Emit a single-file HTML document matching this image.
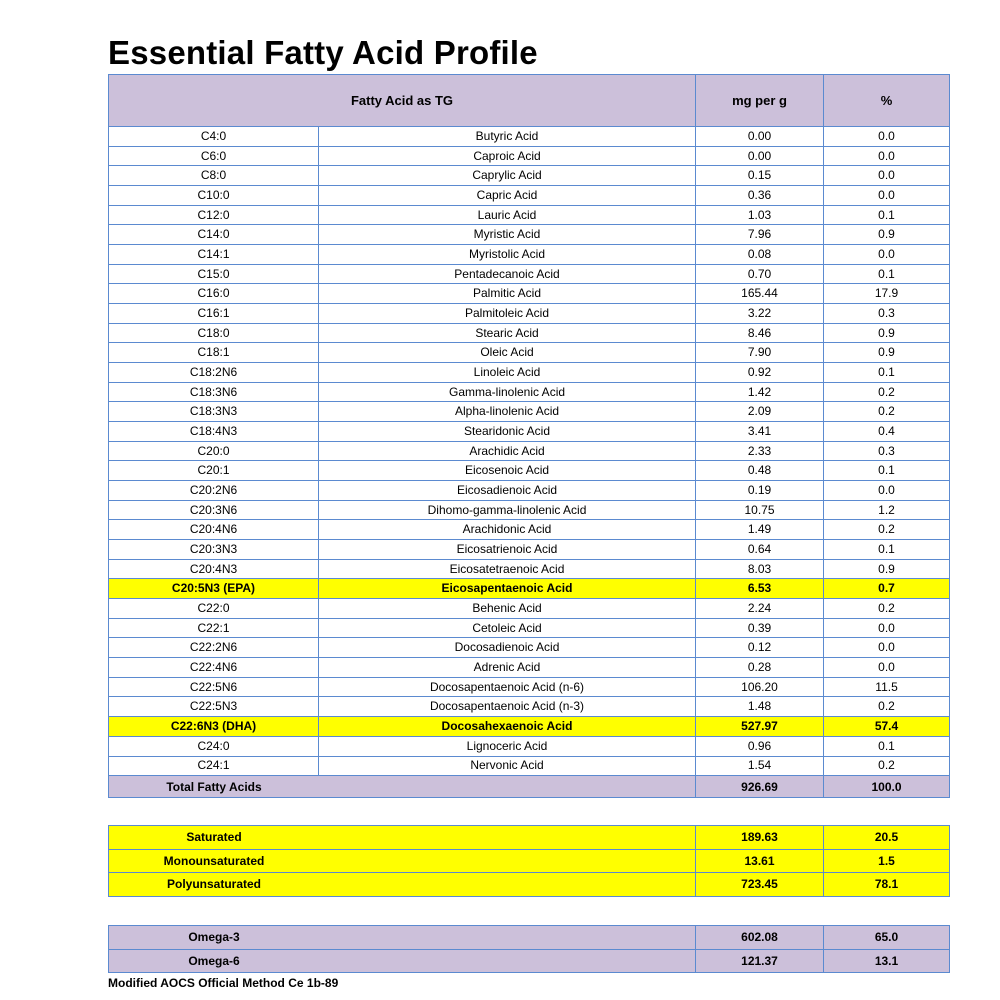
<!DOCTYPE html>
<html><head><meta charset="utf-8"><style>
body{margin:0;width:1000px;height:1000px;background:#fff;position:relative;font-family:"Liberation Sans","DejaVu Sans",sans-serif;color:#000;overflow:hidden}
h1{position:absolute;left:108px;top:34px;margin:0;font-size:33px;font-weight:bold;letter-spacing:0.2px}
table{position:absolute;left:108px;width:841px;border-collapse:collapse;table-layout:fixed;font-size:12px}
td{border:1.5px solid #5b8ad0;text-align:center;padding:0;white-space:nowrap;overflow:hidden}
.p{background:#ccc0da}
.y{background:#ffff00}
.b td{font-weight:bold}
.m td{height:18.68px;line-height:17px}
.lab{display:inline-block;width:210px;text-align:center}
.foot{position:absolute;left:108px;top:976px;font-size:12px;font-weight:bold}
</style></head><body>
<h1>Essential Fatty Acid Profile</h1>
<table style="top:74px">
<colgroup><col style="width:210px"><col style="width:377px"><col style="width:128px"><col style="width:126px"></colgroup>
<tr class="p b"><td colspan="2" style="height:51px;font-size:13px">Fatty Acid as TG</td><td style="font-size:13px">mg per g</td><td style="font-size:13px">%</td></tr>
<tbody class="m">
<tr><td>C4:0</td><td>Butyric Acid</td><td>0.00</td><td>0.0</td></tr>
<tr><td>C6:0</td><td>Caproic Acid</td><td>0.00</td><td>0.0</td></tr>
<tr><td>C8:0</td><td>Caprylic Acid</td><td>0.15</td><td>0.0</td></tr>
<tr><td>C10:0</td><td>Capric Acid</td><td>0.36</td><td>0.0</td></tr>
<tr><td>C12:0</td><td>Lauric Acid</td><td>1.03</td><td>0.1</td></tr>
<tr><td>C14:0</td><td>Myristic Acid</td><td>7.96</td><td>0.9</td></tr>
<tr><td>C14:1</td><td>Myristolic Acid</td><td>0.08</td><td>0.0</td></tr>
<tr><td>C15:0</td><td>Pentadecanoic Acid</td><td>0.70</td><td>0.1</td></tr>
<tr><td>C16:0</td><td>Palmitic Acid</td><td>165.44</td><td>17.9</td></tr>
<tr><td>C16:1</td><td>Palmitoleic Acid</td><td>3.22</td><td>0.3</td></tr>
<tr><td>C18:0</td><td>Stearic Acid</td><td>8.46</td><td>0.9</td></tr>
<tr><td>C18:1</td><td>Oleic Acid</td><td>7.90</td><td>0.9</td></tr>
<tr><td>C18:2N6</td><td>Linoleic Acid</td><td>0.92</td><td>0.1</td></tr>
<tr><td>C18:3N6</td><td>Gamma-linolenic Acid</td><td>1.42</td><td>0.2</td></tr>
<tr><td>C18:3N3</td><td>Alpha-linolenic Acid</td><td>2.09</td><td>0.2</td></tr>
<tr><td>C18:4N3</td><td>Stearidonic Acid</td><td>3.41</td><td>0.4</td></tr>
<tr><td>C20:0</td><td>Arachidic Acid</td><td>2.33</td><td>0.3</td></tr>
<tr><td>C20:1</td><td>Eicosenoic Acid</td><td>0.48</td><td>0.1</td></tr>
<tr><td>C20:2N6</td><td>Eicosadienoic Acid</td><td>0.19</td><td>0.0</td></tr>
<tr><td>C20:3N6</td><td>Dihomo-gamma-linolenic Acid</td><td>10.75</td><td>1.2</td></tr>
<tr><td>C20:4N6</td><td>Arachidonic Acid</td><td>1.49</td><td>0.2</td></tr>
<tr><td>C20:3N3</td><td>Eicosatrienoic Acid</td><td>0.64</td><td>0.1</td></tr>
<tr><td>C20:4N3</td><td>Eicosatetraenoic Acid</td><td>8.03</td><td>0.9</td></tr>
<tr class="y b"><td>C20:5N3 (EPA)</td><td>Eicosapentaenoic Acid</td><td>6.53</td><td>0.7</td></tr>
<tr><td>C22:0</td><td>Behenic Acid</td><td>2.24</td><td>0.2</td></tr>
<tr><td>C22:1</td><td>Cetoleic Acid</td><td>0.39</td><td>0.0</td></tr>
<tr><td>C22:2N6</td><td>Docosadienoic Acid</td><td>0.12</td><td>0.0</td></tr>
<tr><td>C22:4N6</td><td>Adrenic Acid</td><td>0.28</td><td>0.0</td></tr>
<tr><td>C22:5N6</td><td>Docosapentaenoic Acid (n-6)</td><td>106.20</td><td>11.5</td></tr>
<tr><td>C22:5N3</td><td>Docosapentaenoic Acid (n-3)</td><td>1.48</td><td>0.2</td></tr>
<tr class="y b"><td>C22:6N3 (DHA)</td><td>Docosahexaenoic Acid</td><td>527.97</td><td>57.4</td></tr>
<tr><td>C24:0</td><td>Lignoceric Acid</td><td>0.96</td><td>0.1</td></tr>
<tr><td>C24:1</td><td>Nervonic Acid</td><td>1.54</td><td>0.2</td></tr>
</tbody>
<tr class="p b"><td colspan="2" style="height:21px;text-align:left"><span class="lab">Total Fatty Acids</span></td><td>926.69</td><td>100.0</td></tr>
</table>

<table style="top:825px">
<colgroup><col style="width:587px"><col style="width:128px"><col style="width:126px"></colgroup>
<tr class="y b"><td style="height:22.5px;text-align:left"><span class="lab">Saturated</span></td><td>189.63</td><td>20.5</td></tr>
<tr class="y b"><td style="height:22.5px;text-align:left"><span class="lab">Monounsaturated</span></td><td>13.61</td><td>1.5</td></tr>
<tr class="y b"><td style="height:22.5px;text-align:left"><span class="lab">Polyunsaturated</span></td><td>723.45</td><td>78.1</td></tr>
</table>

<table style="top:925px">
<colgroup><col style="width:587px"><col style="width:128px"><col style="width:126px"></colgroup>
<tr class="p b"><td style="height:22.5px;text-align:left"><span class="lab">Omega-3</span></td><td>602.08</td><td>65.0</td></tr>
<tr class="p b"><td style="height:22.5px;text-align:left"><span class="lab">Omega-6</span></td><td>121.37</td><td>13.1</td></tr>
</table>
<div class="foot">Modified AOCS Official Method Ce 1b-89</div>
</body></html>
